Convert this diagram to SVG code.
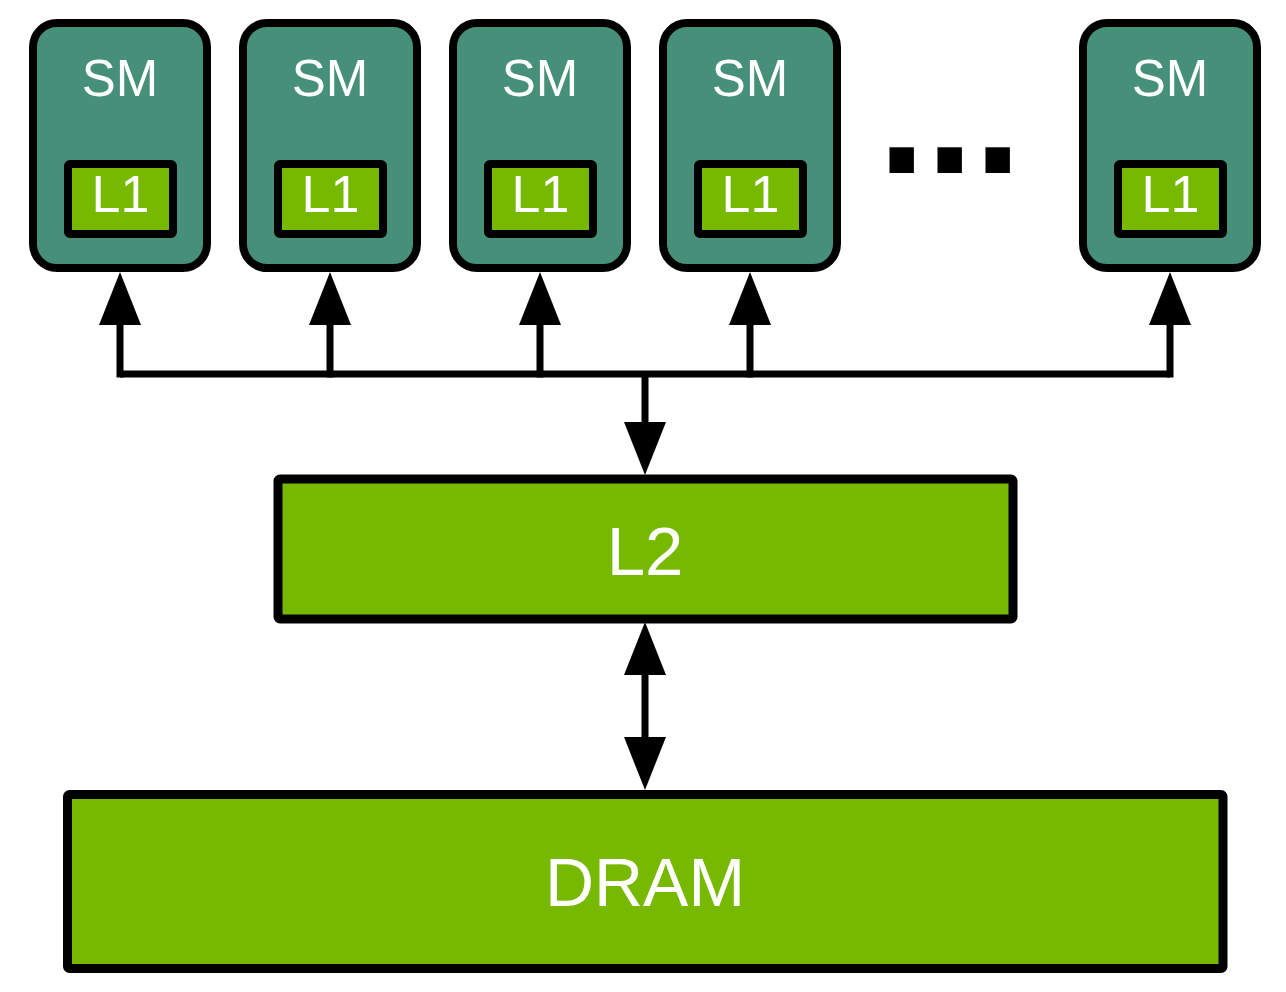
<svg xmlns="http://www.w3.org/2000/svg" width="1286" height="992" viewBox="0 0 1286 992">
<defs>
<style>
.sm{fill:#468f78;stroke:#000;stroke-width:8}
.l1{fill:#76b900;stroke:#000;stroke-width:8}
.big{fill:#76b900;stroke:#000;stroke-width:9}
.lbl{fill:#fff;font-family:"Liberation Sans",Arial,sans-serif;text-anchor:middle}
.wire{fill:none;stroke:#000;stroke-width:7}
</style>
<marker id="ah" markerUnits="userSpaceOnUse" markerWidth="54" markerHeight="44" viewBox="0 -22 54 44" refX="0" refY="0" orient="auto-start-reverse">
<path d="M0,-21 L53,0 L0,21 Z" fill="#000"/>
</marker>
</defs>
<rect width="1286" height="992" fill="#fff"/>
<g id="sm1"><rect class="sm" x="33" y="23" width="174" height="245" rx="24"/><text class="lbl" x="120" y="96" font-size="51">SM</text><rect class="l1" x="68" y="164" width="105" height="70" rx="2"/><text class="lbl" x="120.5" y="212" font-size="52">L1</text></g>
<g id="sm2"><rect class="sm" x="243" y="23" width="174" height="245" rx="24"/><text class="lbl" x="330" y="96" font-size="51">SM</text><rect class="l1" x="278" y="164" width="105" height="70" rx="2"/><text class="lbl" x="330.5" y="212" font-size="52">L1</text></g>
<g id="sm3"><rect class="sm" x="453" y="23" width="174" height="245" rx="24"/><text class="lbl" x="540" y="96" font-size="51">SM</text><rect class="l1" x="488" y="164" width="105" height="70" rx="2"/><text class="lbl" x="540.5" y="212" font-size="52">L1</text></g>
<g id="sm4"><rect class="sm" x="663" y="23" width="174" height="245" rx="24"/><text class="lbl" x="750" y="96" font-size="51">SM</text><rect class="l1" x="698" y="164" width="105" height="70" rx="2"/><text class="lbl" x="750.5" y="212" font-size="52">L1</text></g>
<g id="sm5"><rect class="sm" x="1083" y="23" width="174" height="245" rx="24"/><text class="lbl" x="1170" y="96" font-size="51">SM</text><rect class="l1" x="1118" y="164" width="105" height="70" rx="2"/><text class="lbl" x="1170.5" y="212" font-size="52">L1</text></g>
<g id="ellipsis"><text x="877.7" y="173" font-family="'Liberation Sans',Arial,sans-serif" font-weight="bold" font-size="173" fill="#000">...</text></g>
<g id="l2"><rect class="big" x="278" y="479" width="735" height="140" rx="2"/><text class="lbl" x="645" y="575" font-size="69">L2</text></g>
<g id="dram"><rect class="big" x="67.5" y="794.5" width="1155.5" height="174" rx="2"/><text class="lbl" x="645" y="906" font-size="68">DRAM</text></g>
<g id="connectors">
<line class="wire" x1="120" y1="374" x2="1170" y2="374"/>
<line class="wire" x1="120" y1="377.5" x2="120" y2="325" marker-end="url(#ah)"/>
<line class="wire" x1="330" y1="377.5" x2="330" y2="325" marker-end="url(#ah)"/>
<line class="wire" x1="540" y1="377.5" x2="540" y2="325" marker-end="url(#ah)"/>
<line class="wire" x1="750" y1="377.5" x2="750" y2="325" marker-end="url(#ah)"/>
<line class="wire" x1="1170" y1="377.5" x2="1170" y2="325" marker-end="url(#ah)"/>
<line class="wire" x1="645" y1="374" x2="645" y2="422" marker-end="url(#ah)"/>
<line class="wire" x1="645" y1="675" x2="645" y2="737" marker-start="url(#ah)" marker-end="url(#ah)"/>
</g>
</svg>
